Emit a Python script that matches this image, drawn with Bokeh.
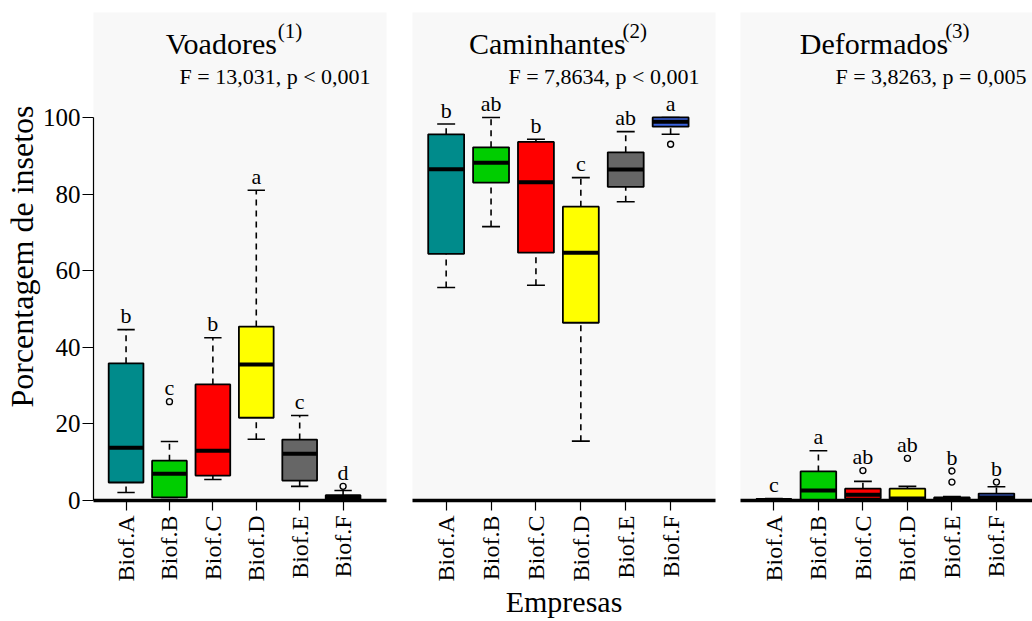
import numpy as np
from bokeh.plotting import figure
from bokeh.layouts import row
from bokeh.models import FixedTicker, ColumnDataSource, Range1d
from bokeh.core.properties import value
from bokeh.embed import file_html
from bokeh.resources import INLINE

# ---------------- data ----------------
categories = ["Biof.A", "Biof.B", "Biof.C", "Biof.D", "Biof.E", "Biof.F"]
box_colors = ["#008B8B", "#00CD00", "#FF0000", "#FFFF00", "#666666", "#3A62DC"]

panel_titles = ["Voadores", "Caminhantes", "Deformados"]
panel_notes = ["(1)", "(2)", "(3)"]
panel_stats = ["F = 13,031, p < 0,001", "F = 7,8634, p < 0,001", "F = 3,8263, p = 0,005"]

voad_lower = [2.1, 0.8, 5.5, 16.0, 3.7, 0.0]
voad_q1 = [4.7, 0.8, 6.5, 21.6, 5.2, 0.0]
voad_median = [13.8, 7.0, 13.0, 35.5, 12.2, 0.8]
voad_q3 = [35.8, 10.4, 30.3, 45.4, 15.9, 1.4]
voad_upper = [44.6, 15.4, 42.5, 81.0, 22.2, 2.6]
voad_out_cat = ["Biof.B", "Biof.F"]
voad_out_val = [25.8, 3.7]
voad_letters = ["b", "c", "b", "a", "c", "d"]

cam_lower = [55.6, 71.5, 56.2, 15.5, 78.0, 95.6]
cam_q1 = [64.4, 83.0, 64.7, 46.4, 81.9, 97.6]
cam_median = [86.5, 88.2, 83.1, 64.7, 86.4, 98.9]
cam_q3 = [95.6, 92.2, 93.6, 76.7, 90.9, 100.0]
cam_upper = [98.3, 100.0, 94.3, 84.3, 96.3, 100.0]
cam_out_cat = ["Biof.F"]
cam_out_val = [93.0]
cam_letters = ["b", "ab", "b", "c", "ab", "a"]

def_lower = [0.0, 0.0, 0.0, 0.0, 0.0, 0.0]
def_q1 = [0.0, 0.0, 0.5, 0.0, 0.0, 0.0]
def_median = [0.1, 2.6, 1.5, 0.5, 0.2, 0.8]
def_q3 = [0.3, 7.6, 3.1, 3.1, 0.8, 1.8]
def_upper = [0.5, 13.0, 5.0, 3.7, 1.0, 3.6]
def_out_cat = ["Biof.C", "Biof.D", "Biof.E", "Biof.E", "Biof.F"]
def_out_val = [7.8, 11.0, 4.8, 7.7, 4.8]
def_letters = ["c", "a", "ab", "ab", "b", "b"]

y_ticks = [0, 20, 40, 60, 80, 100]

panels = [
    (voad_lower, voad_q1, voad_median, voad_q3, voad_upper, voad_out_cat, voad_out_val, voad_letters),
    (cam_lower, cam_q1, cam_median, cam_q3, cam_upper, cam_out_cat, cam_out_val, cam_letters),
    (def_lower, def_q1, def_median, def_q3, def_upper, def_out_cat, def_out_val, def_letters),
]

# ---------------- style / layout ----------------
FONT = "Liberation Serif"
BG = "#F8F8F8"
H = 621
TOP, BOTTOM = 12, 121
Y_END = 127.4
X_START = 0.25
layout_spec = [  # (left border, frame width, right border, x end, subtitle right margin px)
    (92, 294, 13, 7.0, 16),
    (13, 303, 12, 7.0, 16),
    (13, 292, 0, 6.81, 6),
]

EM = {"V": .722, "o": .5, "a": .444, "d": .5, "r": .333, "e": .444, "s": .389,
      "C": .667, "m": .778, "i": .278, "n": .5, "h": .5, "t": .278, "D": .722,
      "f": .333, "(": .333, ")": .333}


def text_w(s, size):
    return sum(EM.get(c, .5) for c in s) * size


TITLE_SIZE, SUP_SIZE = 30, 21
figs = []
for k, (lo, q1, med, q3, up, oc, ov, letters) in enumerate(panels):
    left, fw, right, x_end, sub_margin = layout_spec[k]
    pxu = fw / (x_end - X_START)
    p = figure(width=left + fw + right, height=H,
               x_range=Range1d(X_START, x_end), y_range=Range1d(0, Y_END),
               min_border_left=left, min_border_right=right,
               min_border_top=TOP, min_border_bottom=BOTTOM,
               output_backend="svg", toolbar_location=None,
               background_fill_color=BG, border_fill_color="white",
               outline_line_color=None,
               y_axis_location="left" if k == 0 else None)
    p.xgrid.visible = False
    p.ygrid.visible = False

    xs = [i + 1 for i in range(len(categories))]
    tops = []
    for i, c in enumerate(categories):
        t = up[i]
        for cc, vv in zip(oc, ov):
            if cc == c:
                t = max(t, vv)
        tops.append(t)
    src = ColumnDataSource(dict(
        x=xs, lo=lo, q1=q1, med=med, q3=q3, up=up, color=box_colors,
        cl=[x - 0.2 for x in xs], cr=[x + 0.2 for x in xs],
        bl=[x - 0.4 for x in xs], br=[x + 0.4 for x in xs],
        letter=letters, ly=[t + 3.6 for t in tops],
    ))
    # whiskers
    p.segment(x0="x", y0="q3", x1="x", y1="up", source=src, line_color="black",
              line_width=1.6, line_dash="6 5")
    p.segment(x0="x", y0="lo", x1="x", y1="q1", source=src, line_color="black",
              line_width=1.6, line_dash="6 5")
    # caps
    p.segment(x0="cl", y0="up", x1="cr", y1="up", source=src, line_color="black", line_width=1.6)
    p.segment(x0="cl", y0="lo", x1="cr", y1="lo", source=src, line_color="black", line_width=1.6)
    # boxes
    p.vbar(x="x", width=0.8, bottom="q1", top="q3", source=src, fill_color="color",
           line_color="black", line_width=1.8)
    # medians
    p.segment(x0="bl", y0="med", x1="br", y1="med", source=src, line_color="black", line_width=4)
    # outliers
    ox = [categories.index(c) + 1 for c in oc]
    p.scatter(x=ox, y=ov, marker="circle", size=6, fill_color=None,
              line_color="black", line_width=1.4)
    # significance letters
    p.text(x="x", y="ly", text="letter", source=src, text_font=value(FONT),
           text_font_size="22px", text_align="center", text_baseline="alphabetic",
           text_color="black")

    # titles
    xmid = (X_START + 7.0) / 2
    main_w = text_w(panel_titles[k], TITLE_SIZE) - 3
    sup_w = text_w(panel_notes[k], SUP_SIZE)
    group = main_w + sup_w
    shift = -6
    p.text(x=[xmid], y=[119.3], text=[panel_titles[k]], text_font=value(FONT),
           text_font_size=f"{TITLE_SIZE}px", text_align="left", text_baseline="alphabetic",
           x_offset=shift - group / 2, text_color="black")
    p.text(x=[xmid], y=[122.6], text=[panel_notes[k]], text_font=value(FONT),
           text_font_size=f"{SUP_SIZE}px", text_align="left", text_baseline="alphabetic",
           x_offset=shift - group / 2 + main_w, text_color="black")
    p.text(x=[x_end - sub_margin / pxu], y=[110.8], text=[panel_stats[k]], text_font=value(FONT),
           text_font_size="22px", text_align="right", text_baseline="alphabetic",
           text_color="black")

    # x axis
    xa = p.xaxis[0]
    xa.ticker = FixedTicker(ticks=xs)
    xa.major_label_overrides = {x: c for x, c in zip(xs, categories)}
    xa.major_label_orientation = np.pi / 2
    xa.axis_line_width = 3.5
    xa.axis_line_color = "black"
    xa.major_tick_out = 10
    xa.major_tick_in = 0
    xa.major_tick_line_width = 1.2
    xa.minor_tick_out = 0
    xa.minor_tick_in = 0
    xa.major_label_standoff = 5
    xa.major_label_text_font = FONT
    xa.major_label_text_font_size = "24px"
    xa.major_label_text_color = "black"
    if k == 1:
        xa.axis_label = "Empresas"
        xa.axis_label_text_font = FONT
        xa.axis_label_text_font_size = "30px"
        xa.axis_label_text_font_style = "normal"
        xa.axis_label_text_color = "black"
        xa.axis_label_standoff = 0

    if k == 0:
        ya = p.yaxis[0]
        ya.ticker = FixedTicker(ticks=y_ticks)
        ya.bounds = (0, 100)
        ya.axis_line_width = 1.2
        ya.axis_line_color = "black"
        ya.major_tick_out = 11
        ya.major_tick_in = 0
        ya.major_tick_line_width = 1.2
        ya.minor_tick_out = 0
        ya.minor_tick_in = 0
        ya.major_label_standoff = 2
        ya.major_label_text_font = FONT
        ya.major_label_text_font_size = "25px"
        ya.major_label_text_color = "black"
        ya.axis_label = "Porcentagem de insetos"
        ya.axis_label_text_font = FONT
        ya.axis_label_text_font_size = "32px"
        ya.axis_label_text_font_style = "normal"
        ya.axis_label_text_color = "black"
        ya.axis_label_standoff = 0
    figs.append(p)

layout = row(*figs, spacing=0)
open("out.html", "w").write(file_html(layout, INLINE))
